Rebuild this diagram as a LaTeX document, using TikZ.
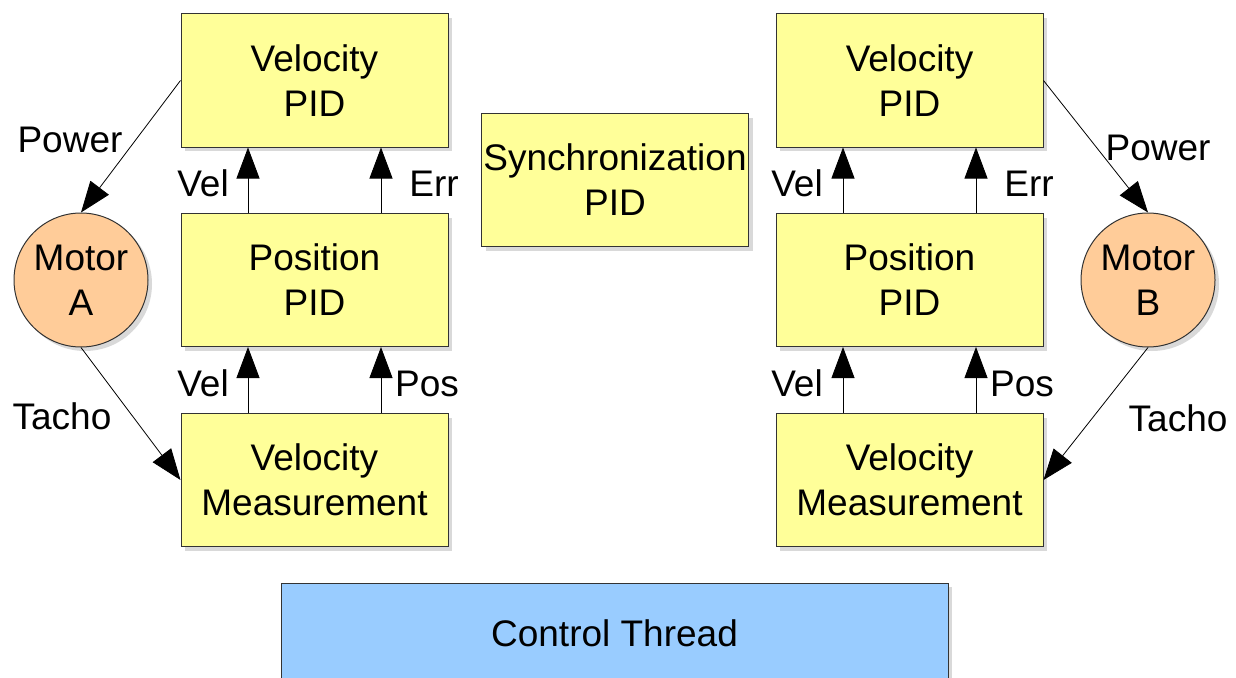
\documentclass[tikz,border=0pt]{standalone}
\usepackage{fontspec}
\setmainfont{Liberation Sans}
\usetikzlibrary{arrows.meta,shadows}
\definecolor{PidYellow}{HTML}{FFFF99}
\definecolor{MotorOrange}{HTML}{FFCC99}
\definecolor{ThreadBlue}{HTML}{99CCFF}
\definecolor{EdgeGrey}{HTML}{333333}

\begin{document}
\begin{tikzpicture}[x=1pt,y=-1pt,
    every node/.style={font=\fontsize{37}{45}\selectfont},
    soft/.style={drop shadow={shadow xshift=4pt,shadow yshift=-4pt,fill=black!15,opacity=1}},
    block/.style={draw=EdgeGrey,fill=PidYellow,line width=1pt,soft,
      minimum width=267pt,minimum height=133pt,align=center,inner sep=0pt},
    motor/.style={circle,draw=EdgeGrey,fill=MotorOrange,line width=1pt,soft,
      minimum size=134pt,align=center,inner sep=0pt},
    sig/.style={-{Triangle[length=31pt,width=23pt]},line width=0.8pt}]
  \useasboundingbox (0,0) rectangle (1236,677);
  \clip (0,0) rectangle (1236,677);

  % left motor chain
  \node[block] (velA)  at (314.5,80.5) {Velocity\\PID};
  \node[block] (posA)  at (314.5,280)  {Position\\PID};
  \node[block] (measA) at (314.5,480)  {Velocity\\Measurement};
  \node[motor] (motA)  at (81,280)     {Motor\\A};

  % right motor chain
  \node[block] (velB)  at (909.5,80.5) {Velocity\\PID};
  \node[block] (posB)  at (909.5,280)  {Position\\PID};
  \node[block] (measB) at (909.5,480)  {Velocity\\Measurement};
  \node[motor] (motB)  at (1148,280)   {Motor\\B};

  \node[block] (sync) at (615,180) {Synchronization\\PID};
  \node[block,fill=ThreadBlue,minimum width=667pt,minimum height=100pt] (ctrl) at (614.5,633) {Control Thread};

  % signals
  \draw[sig] (velA.west) -- (motA.north);
  \draw[sig] (motA.south) -- (measA.west);
  \draw[sig] ([xshift=-66.5pt]measA.north) -- ([xshift=-66.5pt]posA.south);
  \draw[sig] ([xshift=66.5pt]measA.north) -- ([xshift=66.5pt]posA.south);
  \draw[sig] ([xshift=-66.5pt]posA.north) -- ([xshift=-66.5pt]velA.south);
  \draw[sig] ([xshift=66.5pt]posA.north) -- ([xshift=66.5pt]velA.south);

  \draw[sig] (velB.east) -- (motB.north);
  \draw[sig] (motB.south) -- (measB.east);
  \draw[sig] ([xshift=-66.5pt]measB.north) -- ([xshift=-66.5pt]posB.south);
  \draw[sig] ([xshift=66.5pt]measB.north) -- ([xshift=66.5pt]posB.south);
  \draw[sig] ([xshift=-66.5pt]posB.north) -- ([xshift=-66.5pt]velB.south);
  \draw[sig] ([xshift=66.5pt]posB.north) -- ([xshift=66.5pt]velB.south);

  % signal names
  \node (powA)   at (70,140)  {Power};
  \node (tachoA) at (62,416)  {Tacho};
  \node (velA1)  at (203,183) {Vel};
  \node (errA)   at (434,184) {Err};
  \node (velA2)  at (203,383) {Vel};
  \node (posnA)  at (427,384) {Pos};

  \node (powB)   at (1158,148) {Power};
  \node (tachoB) at (1178,418) {Tacho};
  \node (velB1)  at (797,183)  {Vel};
  \node (errB)   at (1029,184) {Err};
  \node (velB2)  at (797,383)  {Vel};
  \node (posnB)  at (1022,384) {Pos};
\end{tikzpicture}
\end{document}
